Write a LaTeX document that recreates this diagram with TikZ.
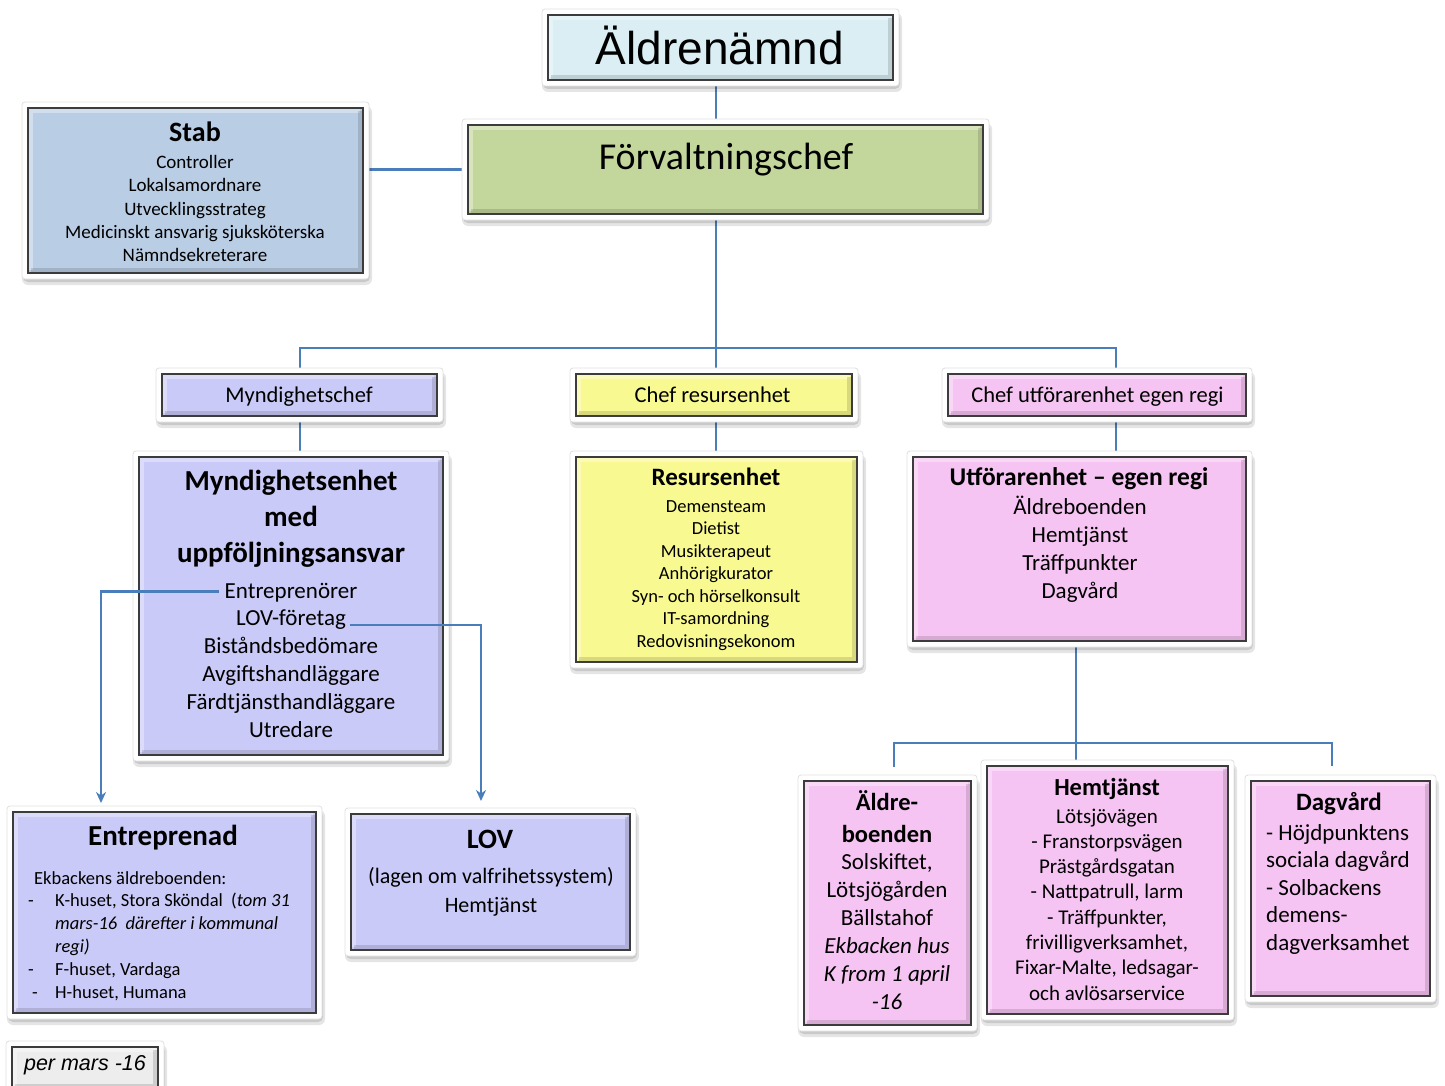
\documentclass[tikz,border=0pt]{standalone}
\usepackage{fontspec}
\setmainfont{Carlito}
\newfontfamily\arialf{Liberation Sans}
\usetikzlibrary{calc,arrows.meta}
\pgfdeclarelayer{background}
\pgfsetlayers{background,main}
\definecolor{caeld}{HTML}{DAEEF3}
\definecolor{cforv}{HTML}{C3D69B}
\definecolor{cstab}{HTML}{B9CDE5}
\definecolor{clav}{HTML}{CACAF8}
\definecolor{cyel}{HTML}{F9F991}
\definecolor{cpink}{HTML}{F6C4F3}
\definecolor{cper}{HTML}{EDEDED}
\definecolor{cborder}{HTML}{3C3C3C}
\definecolor{cline}{HTML}{4A7EBB}
\newcommand\fsz[1]{\fontsize{#1pt}{#1pt}\selectfont}
% name, cx, cy, w, h, fill
\newcommand\orgbox[6]{%
  \pgfmathsetmacro\xa{#2-#4/2}\pgfmathsetmacro\xb{#2+#4/2}%
  \pgfmathsetmacro\ya{#3-#5/2}\pgfmathsetmacro\yb{#3+#5/2}%
  \fill[black, opacity=.10, rounded corners=6pt] (\xa-6,\ya-2) rectangle (\xb+9,\yb+12);
  \fill[black, opacity=.12, rounded corners=5pt] (\xa-5,\ya-1) rectangle (\xb+7,\yb+9);
  \fill[white, draw=black!12, line width=.8pt, rounded corners=3pt] (\xa-6,\ya-6) rectangle (\xb+6,\yb+6);
  \node[box, fill=#6, minimum width=#4pt, minimum height=#5pt] (#1) at (#2,#3) {};
  \draw[white, opacity=.35, line width=4pt] (\xa+2.6,\yb-2.6) -- (\xa+2.6,\ya+2.6) -- (\xb-2.6,\ya+2.6);
  \draw[black, opacity=.13, line width=4pt] (\xa+2.6,\yb-2.6) -- (\xb-2.6,\yb-2.6) -- (\xb-2.6,\ya+2.6);
  \draw[cborder, line width=1.4pt] (#1.north west) rectangle (#1.south east);
}
% name, anchor, x, y0 (baseline), dy, font, list
\newcommand\tlines[7]{%
  \foreach \t [count=\i from 1] in {#7} {%
    \node[anchor=#2, inner sep=0, font=#6] (#1-\i) at (#3, {#4+(\i-1)*#5}) {\t};}%
}
\begin{document}
\begin{tikzpicture}[x=1pt,y=-1pt,
  box/.style={draw=cborder, line width=1.4pt, inner sep=0, outer sep=0},
  conn/.style={draw=cline, line width=2.8pt},
  arr/.style={conn, -{Stealth[length=11pt,width=10pt]}}]
\begin{pgfonlayer}{background}
\fill[white] (0,0) rectangle (1445,1086);
\end{pgfonlayer}
\useasboundingbox (0,0) rectangle (1445,1086);

% boxes
\orgbox{aeld}{720.5}{47.5}{345}{65}{caeld}
\orgbox{forv}{725.5}{169.5}{515}{89}{cforv}
\orgbox{stab}{195.5}{190.5}{335}{165}{cstab}
\orgbox{mch}{299.5}{395}{275}{42}{clav}
\orgbox{rch}{714}{395}{276}{42}{cyel}
\orgbox{uch}{1097}{395}{298}{42}{cpink}
\orgbox{menh}{291}{606}{304}{298}{clav}
\orgbox{res}{716.5}{559.5}{281}{205}{cyel}
\orgbox{utf}{1079.5}{549}{333}{184}{cpink}
\orgbox{entr}{164.5}{912.5}{303}{201}{clav}
\orgbox{lov}{490.5}{882}{279}{136}{clav}
\orgbox{aelb}{887.5}{903}{167}{244}{cpink}
\orgbox{hemt}{1107.5}{890}{241}{248}{cpink}
\orgbox{dagv}{1340.5}{888.5}{179}{215}{cpink}
\orgbox{per}{85}{1068}{146}{42}{cper}

% texts
\node[anchor=base, inner sep=0, font=\arialf\fsz{46}] (aeldT) at (720,65) {Äldrenämnd};
\node[anchor=base, inner sep=0, font=\fsz{38}] (forvT) at (726,169.5) {Förvaltningschef};
\node[anchor=base, inner sep=0, font=\bfseries\fsz{28}] (stabT) at (195,142) {Stab};
\tlines{stabI}{base}{195}{169}{23}{\fsz{19}}{Controller, Lokalsamordnare, Utvecklingsstrateg, Medicinskt ansvarig sjuksköterska, Nämndsekreterare}
\node[anchor=base, inner sep=0, font=\fsz{22.5}] (mchT) at (299,402) {Myndighetschef};
\node[anchor=base, inner sep=0, font=\fsz{22.5}] (rchT) at (712.5,402) {Chef resursenhet};
\node[anchor=base, inner sep=0, font=\fsz{22.5}] (uchT) at (1097.5,402) {Chef utförarenhet egen regi};
\tlines{menhT}{base}{291}{490}{36}{\bfseries\fsz{29}}{Myndighetsenhet, med, uppföljningsansvar}
\tlines{menh}{base}{291}{598}{27.8}{\fsz{23}}{Entreprenörer, LOV-företag, Biståndsbedömare, Avgiftshandläggare, Färdtjänsthandläggare, Utredare}
\node[anchor=base, inner sep=0, font=\bfseries\fsz{25}] (resT) at (716,485) {Resursenhet};
\tlines{resI}{base}{716}{512}{22.5}{\fsz{18.5}}{Demensteam, Dietist, Musikterapeut, Anhörigkurator, Syn- och hörselkonsult, IT-samordning, Redovisningsekonom}
\node[anchor=base, inner sep=0, font=\bfseries\fsz{25.5}] (utfT) at (1079,485) {Utförarenhet – egen regi};
\tlines{utfI}{base}{1080}{514}{28}{\fsz{23}}{Äldreboenden, Hemtjänst, Träffpunkter, Dagvård}
\node[anchor=base, inner sep=0, font=\bfseries\fsz{29}] (entrT) at (163,845) {Entreprenad};
\node[anchor=base west, inner sep=0, font=\fsz{18.5}] (entrA) at (34,884) {Ekbackens äldreboenden:};
\node[anchor=base west, inner sep=0, font=\fsz{18.5}] (entrD1) at (28,906.8) {-};
\node[anchor=base west, inner sep=0, font=\fsz{18.5}] (entrB) at (55,906.8) {K-huset, Stora Sköndal\ \ (\textit{tom 31}};
\node[anchor=base west, inner sep=0, font=\fsz{18.5}] (entrC) at (55,929.6) {\textit{mars-16\ \ därefter i kommunal}};
\node[anchor=base west, inner sep=0, font=\fsz{18.5}] (entrE) at (55,952.4) {\textit{regi)}};
\node[anchor=base west, inner sep=0, font=\fsz{18.5}] (entrD2) at (28,975.2) {-};
\node[anchor=base west, inner sep=0, font=\fsz{18.5}] (entrF) at (55,975.2) {F-huset, Vardaga};
\node[anchor=base west, inner sep=0, font=\fsz{18.5}] (entrD3) at (32,998) {-};
\node[anchor=base west, inner sep=0, font=\fsz{18.5}] (entrH) at (55,998) {H-huset, Humana};
\node[anchor=base, inner sep=0, font=\bfseries\fsz{28}] (lovT) at (490,848) {LOV};
\tlines{lovI}{base}{491}{883}{29}{\fsz{22}}{(lagen om valfrihetssystem), Hemtjänst}
\tlines{aelbT}{base}{887}{810}{32}{\bfseries\fsz{24.5}}{Äldre-, boenden}
\tlines{aelbI}{base}{887}{869}{28}{\fsz{23}}{{Solskiftet,}, Lötsjögården, Bällstahof, {\itshape Ekbacken hus}, {\itshape K from 1 april}, {\itshape -16}}
\node[anchor=base, inner sep=0, font=\bfseries\fsz{24.5}] (hemtT) at (1107,795) {Hemtjänst};
\tlines{hemtI}{base}{1107}{823}{25.3}{\fsz{21}}{Lötsjövägen, - Franstorpsvägen, Prästgårdsgatan, {- Nattpatrull, larm}, {- Träffpunkter,}, {frivilligverksamhet,}, {Fixar-Malte, ledsagar-}, och avlösarservice}
\node[anchor=base, inner sep=0, font=\bfseries\fsz{25}] (dagvT) at (1339,810) {Dagvård};
\tlines{dagvI}{base west}{1266}{840}{27.5}{\fsz{23}}{- Höjdpunktens, sociala dagvård, - Solbackens, demens-, dagverksamhet}
\node[anchor=base, inner sep=0, font=\arialf\itshape\fsz{21.5}] (perT) at (85,1070) {per mars -16};

% connectors
\coordinate (cA) at (716,0);
\coordinate (busL) at (300,348);
\coordinate (busR) at (1116,348);
\coordinate (cD) at (1076,0);
\coordinate (bL) at (894,743);
\coordinate (bR) at (1332,743);
\coordinate (aelbIn) at (894,767);
\coordinate (dagvIn) at (1332,766);
\coordinate (entrIn) at (101,803);
\coordinate (lovIn) at (481,801);
\begin{pgfonlayer}{background}
\draw[conn] (aeld.south -| cA) -- (forv.north -| cA);
\draw[conn] (forv.west -| stab.east) -- (forv.west);
\draw[conn] (forv.south -| cA) -- (cA |- busL);
\draw[conn] (mch.north -| busL) -- (busL) -- (busR) -- (uch.north -| busR);
\draw[conn] (cA |- busL) -- (rch.north -| cA);
\draw[conn] (mch.south -| busL) -- (menh.north -| busL);
\draw[conn] (rch.south -| cA) -- (res.north -| cA);
\draw[conn] (uch.south -| busR) -- (utf.north -| busR);
\draw[conn] (utf.south -| cD) -- (hemt.north -| cD);
\draw[conn] (aelbIn) -- (bL) -- (bR) -- (dagvIn);
\end{pgfonlayer}
\draw[arr] ([xshift=-6pt,yshift=4pt]menh-1.mid west) -| (entrIn);
\draw[arr] ([xshift=4pt,yshift=-1.5pt]menh-2.mid east) -| (lovIn);
\end{tikzpicture}
\end{document}
